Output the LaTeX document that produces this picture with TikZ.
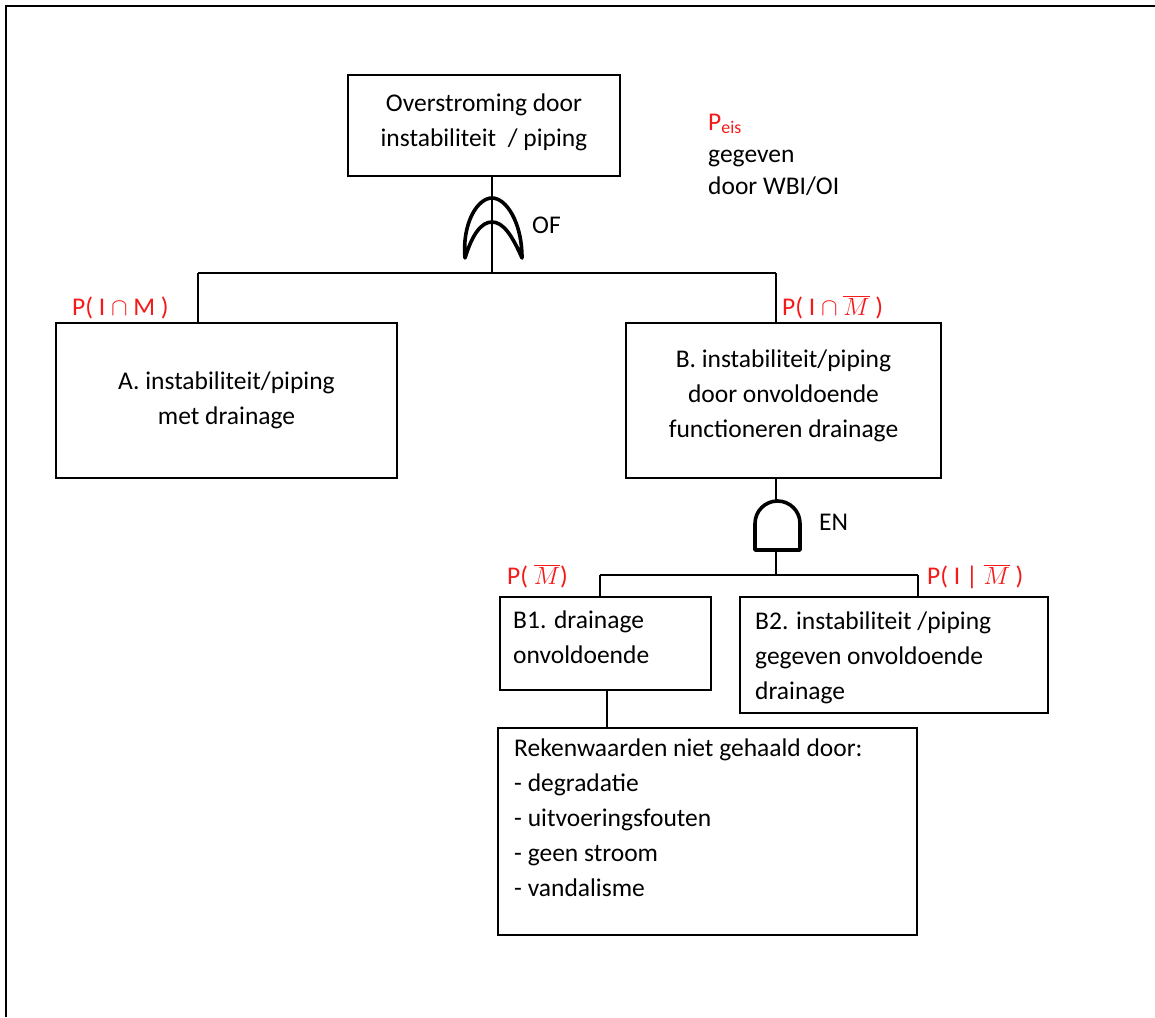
\documentclass[tikz,border=0pt]{standalone}
\usepackage{fontspec}
\setmainfont{Carlito}
\definecolor{probred}{RGB}{245,25,25}
\begin{document}
\begin{tikzpicture}[x=1pt,y=-1pt,
  every node/.style={font=\fontsize{25.5}{35}\selectfont, inner sep=0pt},
  box/.style={draw, line width=1.4pt},
  wire/.style={line width=1.4pt},
  gate/.style={line width=3.6pt, line join=round},
  prob/.style={text=probred, anchor=base west}]
\useasboundingbox (0,0) rectangle (1155,1017);
% frame
\draw[line width=2.6pt] (6,1017) -- (6,6) -- (1155,6);

% event boxes (multi-line text nodes are anchored on the baseline of their last line)
\node[box, minimum width=272, minimum height=101] (top) at (484,125.5) {};
\node[align=center] (toptxt) at (484,122.5) {Overstroming door\\instabiliteit~ / piping};
\node[box, minimum width=341, minimum height=155, align=center] (A) at (226.5,400.5)
  {A. instabiliteit/piping\\met drainage};
\node[box, minimum width=315, minimum height=155] (B) at (783.5,400.5) {};
\node[align=center] (Btxt) at (783.5,396)
  {B. instabiliteit/piping\\door onvoldoende\\functioneren drainage};
\node[box, minimum width=211, minimum height=93] (B1) at (605.5,643.5) {};
\node[align=left, anchor=base west] (B1txt) at (513,663) {B1. drainage\\onvoldoende};
\node[box, minimum width=308, minimum height=116] (B2) at (894,655) {};
\node[align=left, anchor=base west] (B2txt) at (755,699) {B2. instabiliteit /piping\\gegeven onvoldoende\\drainage};
\node[box, minimum width=419, minimum height=207] (R) at (707.5,831.5) {};
\node[align=left, anchor=base west] (Rtxt) at (514,896)
  {Rekenwaarden niet gehaald door:\\- degradatie\\- uitvoeringsfouten\\- geen stroom\\- vandalisme};

% junction points
\coordinate (orj) at (492,273);
\coordinate (aj) at (198,273);
\coordinate (bj) at (776,273);
\coordinate (andj) at (776,575);
\coordinate (b1j) at (600,575);
\coordinate (b2j) at (918,575);
\coordinate (andtop) at (776,501);
\coordinate (andbot) at (776,550);
\coordinate (rj) at (607,700);

% connectors
\draw[wire] (top.south -| orj) -- (orj);
\draw[wire] (aj) -- (bj);
\draw[wire] (aj) -- (A.north -| aj);
\draw[wire] (bj) -- (B.north -| bj);
\draw[wire] (B.south -| andtop) -- (andtop);
\draw[wire] (andbot) -- (andj);
\draw[wire] (b1j) -- (b2j);
\draw[wire] (b1j) -- (B1.north -| b1j);
\draw[wire] (b2j) -- (B2.north -| b2j);
\draw[wire] (B1.south -| rj) -- (R.north -| rj);

% OR gate
\draw[gate] (465,258) .. controls (462,222) and (478,198) .. (492,198)
  .. controls (506,198) and (522,222) .. (522,258)
  .. controls (512,235) and (503,222) .. (492,222)
  .. controls (481,222) and (472,235) .. (465,258) -- cycle;
\node[anchor=base west] (of) at (532,233) {OF};

% AND gate
\draw[gate, fill=white] (755,550) -- (755,523.5) arc[start angle=180, end angle=360, radius=22.5] -- (800,550) -- cycle;
\node[anchor=base west] (en) at (819,530) {EN};

% probabilities
\node[prob] (pA) at (72,315) {P( I $\cap$ M )};
\node[prob] (pB) at (782,315) {P( I $\cap$ $\overline{M}$ )};
\node[prob] (pB1) at (507,584) {P( $\overline{M}$)};
\node[prob] (pB2) at (927,584) {P( I | $\overline{M}$ )};

\node[align=left, anchor=base west, font=\fontsize{25.5}{32}\selectfont] (req) at (708,194)
  {\textcolor{probred}{P$_{\mathrm{eis}}$}\\gegeven\\door WBI/OI};
\end{tikzpicture}
\end{document}
